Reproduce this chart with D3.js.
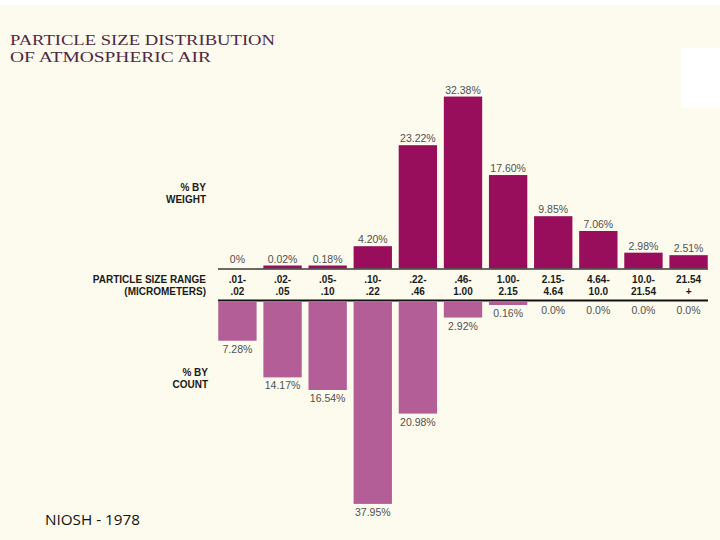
<!DOCTYPE html>
<html>
<head>
<meta charset="utf-8">
<script src="https://cdn.jsdelivr.net/npm/d3@7/dist/d3.min.js"></script>
<style>
  html, body { margin: 0; padding: 0; background: #ffffff; }
  svg { display: block; }
</style>
</head>
<body>
<svg id="chart" width="720" height="540"></svg>
<script>
// ---- data ----
const categories = [".01-.02", ".02-.05", ".05-.10", ".10-.22", ".22-.46", ".46-1.00",
  "1.00-2.15", "2.15-4.64", "4.64-10.0", "10.0-21.54", "21.54+"];
const rangeTop = [".01-", ".02-", ".05-", ".10-", ".22-", ".46-", "1.00-", "2.15-", "4.64-", "10.0-", "21.54"];
const rangeBottom = [".02", ".05", ".10", ".22", ".46", "1.00", "2.15", "4.64", "10.0", "21.54", "+"];
const weightValues = [0, 0.02, 0.18, 4.20, 23.22, 32.38, 17.60, 9.85, 7.06, 2.98, 2.51];
const weightLabels = ["0%", "0.02%", "0.18%", "4.20%", "23.22%", "32.38%", "17.60%", "9.85%", "7.06%", "2.98%", "2.51%"];
const countValues = [7.28, 14.17, 16.54, 37.95, 20.98, 2.92, 0.16, 0, 0, 0, 0];
const countLabels = ["7.28%", "14.17%", "16.54%", "37.95%", "20.98%", "2.92%", "0.16%", "0.0%", "0.0%", "0.0%", "0.0%"];
const titleLines = ["PARTICLE SIZE DISTRIBUTION", "OF ATMOSPHERIC AIR"];

// ---- drawing ----
const svg = d3.select("#chart");
svg.append("rect").attr("x", 0).attr("y", 5).attr("width", 720).attr("height", 535).attr("fill", "#fdfbee");
svg.append("rect").attr("x", 681).attr("y", 48).attr("width", 39).attr("height", 60).attr("fill", "#ffffff");

const x = d3.scaleBand().domain(categories).range([216, 710]).paddingInner(0.15).paddingOuter(0.05);
const yW = d3.scaleLinear().domain([0, 35]).range([268.5, 268.5 - 35 * 5.31]);
const yC = d3.scaleLinear().domain([0, 40]).range([302, 302 + 40 * 5.32]);
const minH = 3;

const weightColor = "#980d5c";
const countColor = "#b35e97";
const labelColor = "#505050";
const sans = "Arial, 'Liberation Sans', Helvetica, sans-serif";

// title
svg.selectAll("text.title").data(titleLines).join("text")
  .attr("class", "title")
  .attr("x", 10)
  .attr("y", (d, i) => 45 + i * 17)
  .attr("font-family", "'Liberation Serif', 'DejaVu Serif', serif")
  .attr("font-size", 15.5)
  .attr("fill", "#4f2744")
  .attr("textLength", (d, i) => i === 0 ? 265 : 201)
  .attr("lengthAdjust", "spacingAndGlyphs")
  .text(d => d);

// weight bars
const wData = categories.map((c, i) => ({ c, v: weightValues[i], label: weightLabels[i] }));
svg.selectAll("rect.w").data(wData.filter(d => d.v > 0)).join("rect")
  .attr("class", "w")
  .attr("x", d => x(d.c))
  .attr("width", x.bandwidth())
  .attr("y", d => Math.min(yW(d.v), yW(0) - minH))
  .attr("height", d => Math.max(yW(0) - yW(d.v), minH))
  .attr("fill", weightColor);

svg.selectAll("text.wl").data(wData).join("text")
  .attr("class", "wl")
  .attr("x", d => x(d.c) + x.bandwidth() / 2)
  .attr("y", d => Math.min(yW(d.v), yW(0) - minH) - 3)
  .attr("text-anchor", "middle")
  .attr("font-family", sans)
  .attr("font-size", 10.5)
  .attr("fill", labelColor)
  .text(d => d.label);

// count bars
const cData = categories.map((c, i) => ({ c, v: countValues[i], label: countLabels[i] }));
svg.selectAll("rect.c").data(cData.filter(d => d.v > 0)).join("rect")
  .attr("class", "c")
  .attr("x", d => x(d.c))
  .attr("width", x.bandwidth())
  .attr("y", yC(0))
  .attr("height", d => Math.max(yC(d.v) - yC(0), minH))
  .attr("fill", countColor);

svg.selectAll("text.cl").data(cData).join("text")
  .attr("class", "cl")
  .attr("x", d => x(d.c) + x.bandwidth() / 2)
  .attr("y", d => Math.max(yC(d.v), yC(0) + (d.v > 0 ? minH : 0)) + 12)
  .attr("text-anchor", "middle")
  .attr("font-family", sans)
  .attr("font-size", 10.5)
  .attr("fill", labelColor)
  .text(d => d.label);

// base lines
const [r0, r1] = x.range();
svg.append("line").attr("x1", r0 + 2).attr("x2", r1 - 2).attr("y1", 269).attr("y2", 269)
  .attr("stroke", "#3a3a3a").attr("stroke-width", 1.3);
svg.append("line").attr("x1", r0 + 2).attr("x2", r1 - 2).attr("y1", 300.5).attr("y2", 300.5)
  .attr("stroke", "#111").attr("stroke-width", 2);

// category labels (as axis)
const axisG = svg.append("g").attr("transform", "translate(0,269)");
axisG.call(d3.axisBottom(x).tickSize(0).tickFormat(() => ""));
axisG.select(".domain").remove();
axisG.selectAll(".tick text").remove();
axisG.selectAll(".tick").each(function (d, i) {
  const t = d3.select(this).append("text")
    .attr("text-anchor", "middle")
    .attr("font-family", sans)
    .attr("font-size", 10)
    .attr("font-weight", "bold")
    .attr("fill", "#1a1a1a");
  t.append("tspan").attr("x", 0).attr("y", 14).text(rangeTop[i]);
  t.append("tspan").attr("x", 0).attr("y", 26).text(rangeBottom[i]);
});

// side labels
function sideLabel(lines, yBase, xr) {
  svg.append("g").selectAll("text").data(lines).join("text")
    .attr("x", xr)
    .attr("y", (d, i) => yBase + i * 12)
    .attr("text-anchor", "end")
    .attr("font-family", sans)
    .attr("font-size", 10)
    .attr("font-weight", "bold")
    .attr("fill", "#1a1a1a")
    .text(d => d);
}
sideLabel(["% BY", "WEIGHT"], 191, 206);
sideLabel(["PARTICLE SIZE RANGE", "(MICROMETERS)"], 283, 206);
sideLabel(["% BY", "COUNT"], 376, 208);

// source note
svg.append("text")
  .attr("x", 45).attr("y", 525)
  .attr("font-family", "'Open Sans', 'Liberation Sans', sans-serif")
  .attr("font-size", 15)
  .attr("fill", "#111")
  .attr("textLength", 95)
  .attr("lengthAdjust", "spacingAndGlyphs")
  .text("NIOSH - 1978");
</script>
</body>
</html>
